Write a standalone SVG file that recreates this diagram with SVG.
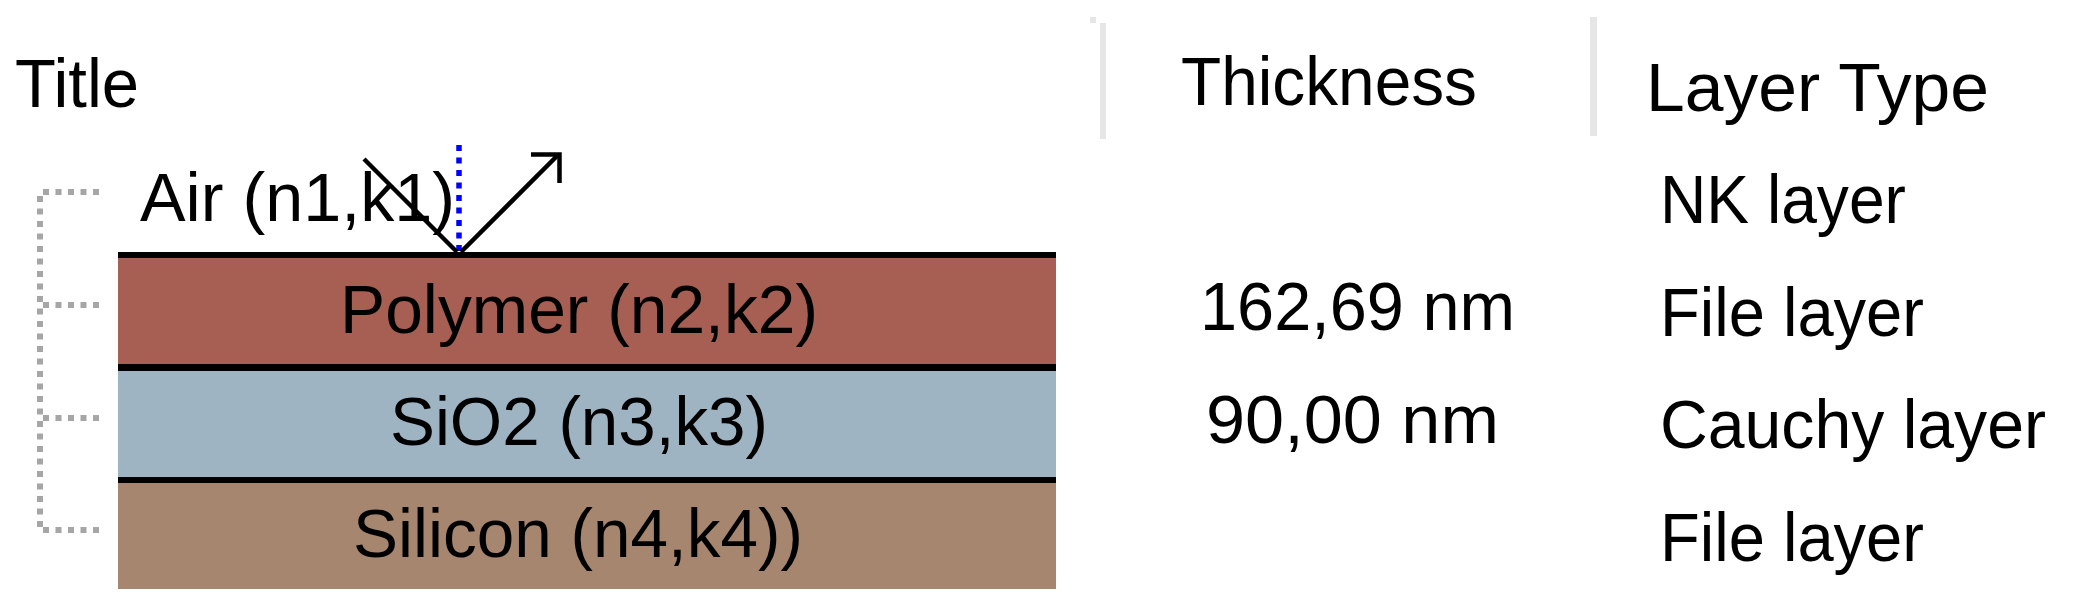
<svg xmlns="http://www.w3.org/2000/svg" width="2073" height="611" viewBox="0 0 2073 611">
<defs>
<style>
text{font-family:"Liberation Sans",Arial,sans-serif;font-size:69px;fill:#000}
.div{fill:#e6e6e6}
.br{stroke:#a6a6a6;stroke-width:6;fill:none;stroke-dasharray:6 6.5}
.sep{fill:#000}
.ray{stroke:#000;stroke-width:4.5;fill:none}
.norm{stroke:#0000ff;stroke-width:5.5;stroke-dasharray:6 6.5;fill:none}
</style>
</defs>
<rect width="2073" height="611" fill="#fff"/>
<g id="header">
<text x="15" y="107" textLength="124" lengthAdjust="spacingAndGlyphs">Title</text>
<rect class="div" x="1090" y="17" width="6" height="6"/>
<rect class="div" x="1100" y="23" width="6" height="116"/>
<text x="1181" y="105" textLength="296" lengthAdjust="spacingAndGlyphs">Thickness</text>
<rect class="div" x="1590" y="17" width="7" height="119"/>
<text x="1646" y="111" textLength="343" lengthAdjust="spacingAndGlyphs">Layer Type</text>
</g>
<g id="connectors">
<path class="br" d="M40,196 V527"/>
<path class="br" d="M43,192 H99 M43,305 H99 M43,418 H99 M43,530 H99"/>
</g>
<g id="air">
<text x="140" y="221" textLength="315" lengthAdjust="spacingAndGlyphs">Air (n1,k1)</text>
<text x="1660" y="223" textLength="246" lengthAdjust="spacingAndGlyphs">NK layer</text>
</g>
<g id="polymer">
<rect class="sep" x="118" y="252" width="938" height="6"/>
<rect x="118" y="258" width="938" height="106" fill="#a65f52"/>
<text x="340" y="333" textLength="478" lengthAdjust="spacingAndGlyphs">Polymer (n2,k2)</text>
<text x="1200" y="330" textLength="315" lengthAdjust="spacingAndGlyphs">162,69 nm</text>
<text x="1660" y="336" textLength="264" lengthAdjust="spacingAndGlyphs">File layer</text>
</g>
<g id="sio2">
<rect class="sep" x="118" y="364" width="938" height="7"/>
<rect x="118" y="371" width="938" height="106" fill="#9eb4c3"/>
<text x="390" y="445" textLength="378" lengthAdjust="spacingAndGlyphs">SiO2 (n3,k3)</text>
<text x="1206" y="443" textLength="293" lengthAdjust="spacingAndGlyphs">90,00 nm</text>
<text x="1660" y="448" textLength="386" lengthAdjust="spacingAndGlyphs">Cauchy layer</text>
</g>
<g id="silicon">
<rect class="sep" x="118" y="477" width="938" height="6"/>
<rect x="118" y="483" width="938" height="106" fill="#a6866f"/>
<text x="353" y="557" textLength="450" lengthAdjust="spacingAndGlyphs">Silicon (n4,k4))</text>
<text x="1660" y="561" textLength="264" lengthAdjust="spacingAndGlyphs">File layer</text>
</g>
<g id="rays">
<path class="norm" d="M459,145 V252"/>
<path class="ray" d="M364,159 L457,252"/>
<path class="ray" d="M461,252 L558,155"/>
<path class="ray" stroke-width="5" d="M531,154.5 H559.5 V183"/>
</g>
</svg>
